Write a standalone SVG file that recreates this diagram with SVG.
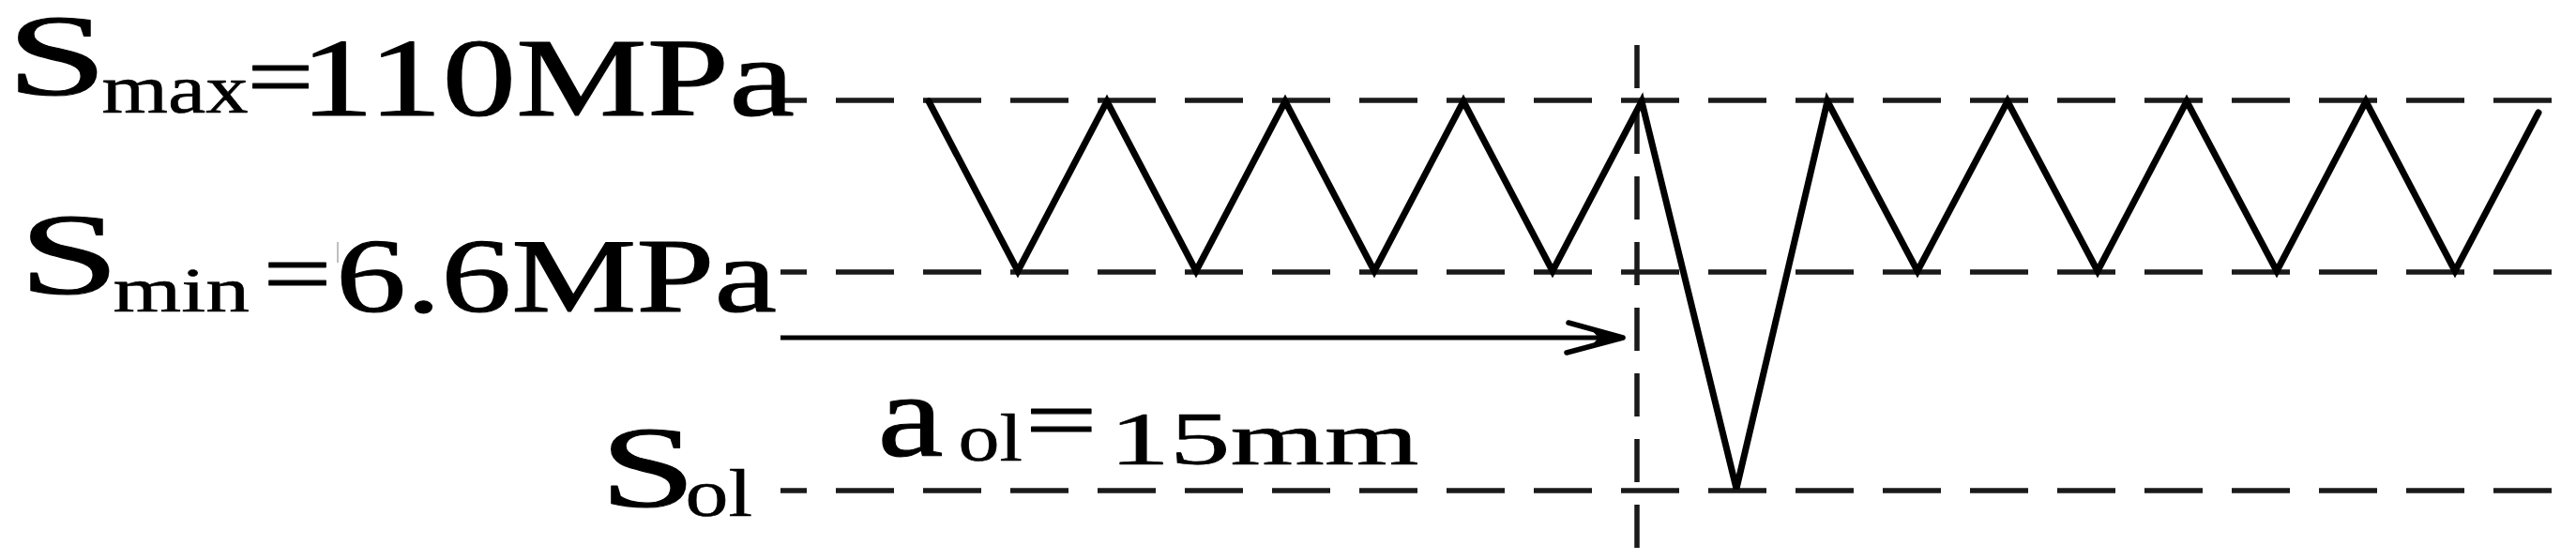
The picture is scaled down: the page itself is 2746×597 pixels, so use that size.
<svg xmlns="http://www.w3.org/2000/svg" width="2746" height="597" viewBox="0 0 2746 597">
<style>
.t{font-family:"Liberation Serif","Times New Roman",serif;fill:#000;stroke:#000;stroke-width:1.1;stroke-linejoin:round}
.sub{stroke-width:0.6}
.ref{fill:none;stroke:#1a1a1a;stroke-width:5.5;stroke-dasharray:62 31;stroke-dashoffset:34}
.vref{fill:none;stroke:#1a1a1a;stroke-width:5.5;stroke-dasharray:46 24}
.wave{fill:none;stroke:#000;stroke-width:7;stroke-linejoin:miter;stroke-linecap:round}
.arr{fill:none;stroke:#000;stroke-width:5}
</style>
<defs>
<marker id="ah" markerUnits="userSpaceOnUse" markerWidth="80" markerHeight="50" refX="70" refY="25" orient="auto" overflow="visible">
<path d="M70,25 L12,9 M70,25 L10,41" fill="none" stroke="#000" stroke-width="5.5" stroke-linecap="round"/>
<path d="M70,25 L36,16 L44,25 L36,34 Z" fill="#000"/>
</marker>
</defs>
<rect width="2746" height="597" fill="#fff"/>
<g id="reference-lines">
<line class="ref" x1="832" y1="107" x2="2720" y2="107"/>
<line class="ref" x1="832" y1="290" x2="2723" y2="290"/>
<line class="ref" x1="832" y1="523" x2="2723" y2="523"/>
<line class="vref" x1="1745" y1="48" x2="1745" y2="584"/>
</g>
<g id="waveform">
<polyline class="wave" points="990,108 1085,289 1180,108 1275,289 1370,108 1465,289 1560,108 1655,289 1750,108 1851,521 1948,108 2044,289 2140,108 2236,289 2331,108 2427,289 2522,108 2617,289 2706,120"/>
</g>
<g id="connectors">
<line class="arr" x1="832" y1="360" x2="1730" y2="360" marker-end="url(#ah)"/>
</g>
<g id="label-smax">
<text class="t"><tspan x="7" y="101" font-size="123" textLength="107.5" lengthAdjust="spacingAndGlyphs">S</tspan><tspan class="sub" x="108.5" y="120" font-size="74" textLength="156" lengthAdjust="spacingAndGlyphs">max</tspan><tspan x="263.5" y="114" font-size="98" textLength="71" lengthAdjust="spacingAndGlyphs">=</tspan><tspan x="320" y="123" font-size="118" textLength="527" lengthAdjust="spacingAndGlyphs">110MPa</tspan></text>
</g>
<g id="label-smin">
<text class="t"><tspan x="20" y="313" font-size="123" textLength="107.5" lengthAdjust="spacingAndGlyphs">S</tspan><tspan class="sub" x="120.5" y="332" font-size="68" textLength="145.5" lengthAdjust="spacingAndGlyphs">min</tspan><tspan x="280.5" y="324" font-size="98" textLength="73" lengthAdjust="spacingAndGlyphs">=</tspan><tspan x="358" y="332" font-size="112" textLength="470" lengthAdjust="spacingAndGlyphs">6.6MPa</tspan></text>
<line x1="360" y1="258" x2="360" y2="280" stroke="#aaa" stroke-width="1.5"/>
</g>
<g id="label-sol">
<text class="t"><tspan x="639.5" y="540" font-size="123" textLength="102.5" lengthAdjust="spacingAndGlyphs">S</tspan><tspan class="sub" x="730.5" y="550" font-size="72" textLength="71.5" lengthAdjust="spacingAndGlyphs">ol</tspan></text>
</g>
<g id="label-aol">
<text class="t"><tspan x="935.5" y="486" font-size="128" textLength="70" lengthAdjust="spacingAndGlyphs">a</tspan><tspan class="sub" x="1021.5" y="491" font-size="72" textLength="68.4" lengthAdjust="spacingAndGlyphs">ol</tspan><tspan x="1093" y="480" font-size="98" textLength="76.5" lengthAdjust="spacingAndGlyphs">=</tspan><tspan class="sub" x="1182.5" y="495" font-size="80" textLength="330" lengthAdjust="spacingAndGlyphs">15mm</tspan></text>
</g>
</svg>
